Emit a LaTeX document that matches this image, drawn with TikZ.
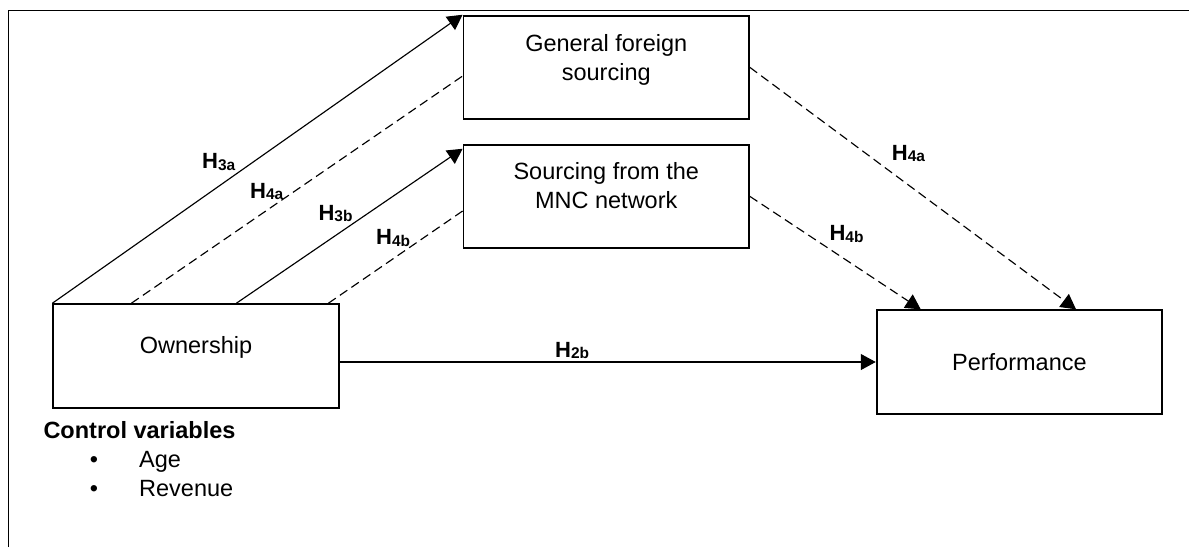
\documentclass[tikz,border=0pt]{standalone}
\usepackage{fontspec}
\setmainfont{Liberation Sans}
\usetikzlibrary{arrows.meta,calc}

% hypothesis label: bold H with a lowered, smaller index
\newcommand\hyplabel[1]{\textbf{\fontsize{22}{22}\selectfont H\raisebox{-1.8pt}{\fontsize{15.5}{15.5}\selectfont #1}}}

\begin{document}
\begin{tikzpicture}[
  x=1pt, y=-1pt,
  box/.style={draw, rectangle, line width=1.8pt, inner sep=0pt,
              minimum width=285.5pt, minimum height=103.5pt},
  body/.style={font=\fontsize{23.5}{29}\selectfont, inner sep=0pt, align=center},
  link/.style={line width=1.15pt},
  hyparrow/.style={link, -{Triangle[length=15pt,width=16pt]}},
  dashlink/.style={link, dash pattern=on 9pt off 5pt},
  lbl/.style={anchor=base west, inner sep=0pt},
]
\useasboundingbox (0,0) rectangle (1189,547);

% open frame (top and left sides)
\draw[line width=1.4pt] (8.5,547) -- (8.5,10.5) -- (1189,10.5);

% constructs
\node[box] (gfs)  at (606.25, 67.4)  {};
\node[box] (mnc)  at (606.25, 196.4) {};
\node[box] (own)  at (196.0, 355.9)  {};
\node[box] (perf) at (1019.4, 362.0) {};

\node[body, anchor=north] (gfsText) at (606.25, 34.6) {General foreign\\sourcing};
\node[body, anchor=north] (mncText) at (606.25, 162.2) {Sourcing from the\\MNC network};
\node[body, anchor=base]  (ownText) at (196.0, 353.0) {Ownership};
\node[body, anchor=base]  (perfText) at (1019.4, 370.0) {Performance};

% paths from ownership to the sourcing constructs
\draw[hyparrow] (own.north west) -- (gfs.north west);
\draw[dashlink] ([xshift=79pt]own.north west) -- ([yshift=-8.6pt]gfs.west);
\draw[hyparrow] ([xshift=184pt]own.north west) -- ([yshift=-5pt]mnc.north west);
\draw[dashlink] ([xshift=276pt]own.north west) -- ([yshift=-14.6pt]mnc.west);

% paths from sourcing to performance
\draw[dashlink, -{Triangle[length=15pt,width=16pt]}] (gfs.east) -- ([xshift=200.3pt]perf.north west);
\draw[dashlink, -{Triangle[length=15pt,width=16pt]}] (mnc.east) -- ([xshift=45pt]perf.north west);

% direct effect
\draw[hyparrow] (own.east |- perf.west) -- (perf.west);

% hypothesis labels
\node[lbl] (h3a)  at (202.0, 168.3) {\hyplabel{3a}};
\node[lbl] (h4a)  at (250.0, 198.0) {\hyplabel{4a}};
\node[lbl] (h3b)  at (318.3, 220.0) {\hyplabel{3b}};
\node[lbl] (h4b)  at (376.0, 244.3) {\hyplabel{4b}};
\node[lbl] (h4ar) at (891.7, 160.0) {\hyplabel{4a}};
\node[lbl] (h4br) at (829.3, 240.7) {\hyplabel{4b}};
\node[lbl] (h2b)  at (555.0, 357.0) {\hyplabel{2b}};

% control variables
\node[lbl, font=\bfseries\fontsize{23.5}{29}\selectfont] (ctrl) at (43.3, 438.3) {Control variables};
\node[anchor=base, inner sep=0pt, font=\fontsize{23.5}{29}\selectfont] (bulA) at (94.0, 467.0) {•};
\node[anchor=base, inner sep=0pt, font=\fontsize{23.5}{29}\selectfont] (bulR) at (94.0, 496.0) {•};
\node[lbl, font=\fontsize{23.5}{29}\selectfont] (age) at (139.0, 467.0) {Age};
\node[lbl, font=\fontsize{23.5}{29}\selectfont] (rev) at (139.0, 496.0) {Revenue};
\end{tikzpicture}
\end{document}
